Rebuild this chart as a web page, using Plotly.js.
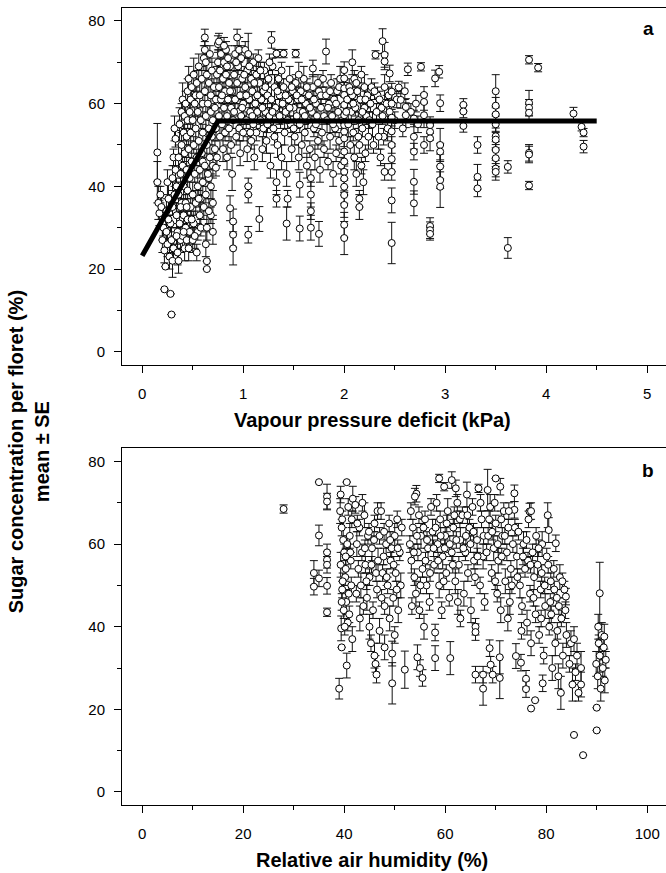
<!DOCTYPE html>
<html>
<head>
<meta charset="utf-8">
<script src="https://cdn.plot.ly/plotly-3.0.1.min.js"></script>
<style>
html,body{margin:0;padding:0;background:#fff;}
#chart{width:666px;height:873px;}
</style>
</head>
<body>
<div id="chart"></div>
<script>
// Panel a: [vapour pressure deficit (kPa), sugar concentration (%), SE]
const vpdPoints = [
[0.15,48.2,7],[0.15,41,5],[0.16,36,4],[0.17,33.5,3],[0.18,38,2],[0.19,35,3],[0.2,31,4],[0.2,27,3],[0.21,30,2],[0.22,15.1,0],[0.23,20.6,0],[0.22,24.5,3],[0.24,34,3],[0.24,29,2],[0.25,41,3],[0.25,26,3],[0.26,37,4],[0.27,23,3],[0.28,14,0],[0.29,9,0],[0.28,31,2],[0.29,27,3],[0.3,42,3],[0.3,35,2],[0.3,22,4],[0.31,47,2],[0.31,25,3],
[0.32,54,3],[0.33,51.5,2],[0.33,44,3],[0.34,40,2],[0.34,33,3],[0.35,29,2],[0.35,24,3],[0.36,47,3],[0.36,38,2],[0.37,55,4],[0.37,31,3],[0.38,43,2],[0.38,27,3],[0.39,58,2],[0.39,50,3],[0.39,36,2],[0.4,61,4],[0.4,45,3],[0.4,28,3],[0.41,53,2],[0.41,40,3],[0.41,33,2],[0.42,57,3],[0.42,48,2],[0.42,25,3],[0.43,60,3],[0.43,36,2],[0.43,30,3],[0.44,52,2],[0.44,44,3],[0.44,27,2],[0.45,63,3],[0.45,56,2],[0.45,39,3],[0.45,32,2],
[0.46,66,3],[0.46,49,2],[0.47,58,3],[0.47,42,3],[0.47,29,3],[0.48,61,2],[0.48,53,3],[0.48,35,2],[0.49,64,3],[0.49,46,3],[0.5,56,2],[0.5,38,3],[0.5,27,3],[0.51,67,4],[0.51,50,2],[0.51,31,3],[0.52,60,3],[0.52,43,2],[0.53,62,2],[0.53,54,3],[0.53,36,3],[0.54,65,3],[0.54,47,2],[0.55,58,2],[0.55,40,3],[0.55,29,2],[0.56,69,3],[0.56,51,3],[0.57,62,3],[0.57,44,2],[0.57,33,3],[0.58,56,2],[0.58,37,3],[0.59,66,3],[0.59,48,2],[0.6,60,3],[0.6,53,2],[0.6,41,3],[0.61,71,3],[0.61,35,3],
[0.26,32,2],[0.32,38,2],[0.34,28,2],[0.36,22,3],[0.38,35,2],[0.41,29,2],[0.44,35,2],[0.46,25,3],[0.49,32,2],[0.52,28,3],[0.54,24,2],[0.56,37,2],[0.58,30,2],[0.6,46,2],[0.63,26,3],[0.66,42,2],[0.68,33,2],[0.7,29,3],
[0.62,76,2],[0.62,73,2],[0.62,63,3],[0.62,45,3],[0.63,70,2],[0.63,57,3],[0.63,38,2],[0.64,21.9,0],[0.64,20,0],[0.64,67,3],[0.64,50,3],[0.64,30,3],[0.65,60,2],[0.65,43,2],[0.66,65,3],[0.66,54,2],[0.66,34,3],[0.67,72,2],[0.67,47,3],[0.68,62,3],[0.68,58,2],[0.68,40,3],[0.69,68,3],[0.69,52,2],[0.7,56,3],[0.7,45,3],[0.7,36,3],[0.71,64,2],[0.72,59,3],[0.72,49,2],[0.73,44.5,2],[0.73,54,3],[0.73,61,2],[0.74,67,2],[0.74,47,2],
[0.75,74.4,2],[0.75,70,3],[0.76,64,3],[0.76,57,2],[0.77,68,3],[0.77,52,3],[0.78,72,2],[0.78,61,2],[0.79,55,3],[0.8,66,2],[0.8,49,3],[0.81,70,3],[0.81,59,2],[0.82,63,3],[0.82,53,2],[0.83,73,2],[0.83,67,2],[0.84,57,3],[0.84,47,3],[0.85,61,2],[0.85,71,3],[0.86,65,2],[0.86,54,3],[0.87,34.7,3],[0.87,69,2],[0.88,59,3],[0.88,50,2],[0.89,43,4],[0.89,63,3],[0.9,31.5,3],[0.9,28.3,3],[0.9,25,4],[0.9,56,2],[0.91,67,3],[0.92,72,2],[0.92,61,3],[0.93,52,2],[0.94,76,2],[0.94,65,3],[0.95,58,2],[0.95,69,2],[0.96,54,3],[0.97,62,2],[0.97,48,3],[0.98,71,3],[0.98,57,2],[0.99,66,2],[1.0,60,3],[1.0,53,2],
[0.76,75,2],[0.79,62,2],[0.81,74,2],[0.84,69,3],[0.87,63,2],[0.91,58,2],[0.93,70,2],[0.96,73,3],[0.99,59,2],
[1.02,73,2],[1.02,64,3],[1.03,56,2],[1.04,68,3],[1.04,49,3],[1.05,72,5],[1.05,40,2],[1.05,38,2],[1.05,28.3,2],[1.06,61,2],[1.07,58,3],[1.08,66,2],[1.08,51,2],[1.09,63,3],[1.1,55,2],[1.1,70,2],[1.11,47,3],[1.12,60,2],[1.13,67,3],[1.13,53,2],[1.14,58,2],[1.15,71,2],[1.16,65,3],[1.16,32.1,3],[1.17,56,2],[1.18,61,2],[1.19,49,3],[1.2,63,3],[1.2,54,2],[1.21,68,2],[1.22,58,2],[1.23,51,3],[1.24,62,3],[1.25,66,2],[1.26,57,2],[1.27,45,3],[1.28,75.4,2],[1.28,61,3],[1.29,69,2],[1.3,54,2],[1.31,64,3],[1.32,59,2],[1.33,72.1,1],[1.33,41,3],[1.33,37,2],[1.34,50,3],[1.35,66,2],[1.36,62,3],[1.37,56,2],[1.38,47,3],[1.39,60,2],[1.4,72.1,1],[1.4,64,2],
[1.01,67,2],[1.03,62,2],[1.06,69,2],[1.07,53,2],[1.09,57,2],[1.11,65,2],[1.14,62,3],[1.17,68,2],[1.19,59,2],[1.22,64,2],[1.24,55,2],[1.26,70,2],[1.29,58,2],[1.31,52,2],[1.34,63,2],[1.36,57,2],[1.38,68,2],
[1.41,53,3],[1.42,58,2],[1.43,31,4],[1.43,43,3],[1.44,37,2],[1.45,61,2],[1.46,66,3],[1.47,55,2],[1.48,49,3],[1.49,63,2],[1.5,59,3],[1.51,52,2],[1.52,72.1,1],[1.52,65,2],[1.53,57,3],[1.54,61,2],[1.55,47,3],[1.56,40.4,3],[1.56,29.8,3],[1.56,55,2],[1.57,63,2],[1.58,50,3],[1.59,58,2],[1.6,66,3],[1.61,53,2],[1.62,60,2],[1.63,45,3],[1.64,56,2],[1.65,62,3],[1.66,49,2],[1.67,38,3],[1.67,34,2],[1.67,30,3],[1.67,42,2],[1.68,58,2],[1.69,68.5,2],[1.69,64,3],[1.7,54,2],[1.71,47,3],[1.72,60,2],[1.73,57,3],[1.74,51,2],[1.75,28.5,3],[1.75,63,2],[1.76,44,3],[1.77,59,2],[1.78,53,3],[1.79,66,2],[1.8,49,2],
[1.42,62,2],[1.44,56,2],[1.46,59,2],[1.48,64,2],[1.5,54,2],[1.53,62,2],[1.55,67,3],[1.58,61,2],[1.61,57,2],[1.63,64,2],[1.66,59,2],[1.7,61,2],[1.72,55,2],[1.74,65,2],[1.77,62,2],[1.8,57,2],
[1.82,72.6,3],[1.82,62,2],[1.83,56,3],[1.84,46,2],[1.85,60,2],[1.86,52,3],[1.87,65,2],[1.88,57,2],[1.89,43,3],[1.9,61,3],[1.91,54,2],[1.92,48,2],[1.93,63,3],[1.94,58,2],[1.95,51,2],[1.96,66,3],[1.97,45,2],
[1.84,59,2],[1.86,63,2],[1.89,55,2],[1.92,60,2],[1.95,64,2],[1.98,56,2],
[2.0,68.1,2],[2.0,66.1,2],[2.0,63.7,2],[2.0,62.1,3],[2.0,59.7,2],[2.0,57.2,2],[2.0,54.8,3],[2.0,53.2,2],[2.0,51.6,2],[2.0,48.4,3],[2.0,46,2],[2.0,43.5,2],[2.0,41.9,3],[2.0,39.9,2],[2.0,37.9,2],[2.0,35.5,3],[2.0,30.7,3],[2.0,27.5,4],
[2.03,61,2],[2.04,55,3],[2.05,64,2],[2.06,50,2],[2.07,58,3],[2.08,70,3],[2.08,62,2],[2.09,53,2],[2.1,66,2],[2.1,47,3],[2.11,59,2],[2.12,43,3],[2.13,63,2],[2.14,56,2],[2.15,35,3],[2.15,37,2],[2.15,50,2],[2.16,61,3],[2.17,67,2],[2.17,45,2],[2.18,54,2],[2.19,41,3],[2.2,59,2],[2.2,64,3],[2.21,48,2],[2.22,57,2],[2.23,62,2],[2.24,52,3],
[2.02,58,2],[2.06,63,2],[2.09,60,2],[2.12,65,2],[2.14,52,2],[2.18,58,2],[2.21,61,2],[2.25,56,2],[2.27,64,2],[2.29,50,2],[2.33,62,2],[2.37,59,2],[2.39,52,2],[2.44,62,2],[2.5,56,2],[2.52,61,2],[2.58,54,2],[2.6,63,2],[2.66,58,2],[2.73,55,2],
[2.26,60,2],[2.28,55,3],[2.3,63,2],[2.31,71.8,1],[2.32,58,2],[2.34,52,3],[2.35,61,2],[2.36,47,2],[2.38,75.1,3],[2.38,57,2],[2.4,71.8,3],[2.4,70.2,2],[2.4,64,3],[2.4,43.5,2],[2.42,60,2],[2.43,54,3],[2.45,67.3,2],[2.45,58,2],
[2.47,62.9,2],[2.47,60,3],[2.47,56.6,2],[2.47,53.3,3],[2.47,50,2],[2.47,46.6,3],[2.47,43.5,2],[2.47,36.6,3],[2.47,26.3,5],
[2.54,63.9,1.5],[2.56,60.9,2],[2.61,59.2,2],[2.61,57.2,3],
[2.63,68.3,1.5],[2.69,56.4,2],[2.69,52,3],[2.69,48.4,2],[2.69,41.1,3],[2.69,35.9,3],[2.71,60,2],[2.76,68.9,1],[2.79,62.1,2],[2.79,60.4,2],[2.79,57.2,3],[2.79,50,2],[2.85,54.8,2],[2.85,53.2,2],[2.85,51.6,3],[2.85,30.4,2],[2.85,29.4,2],[2.85,28.5,1.5],[2.9,66.1,2],[2.94,67.7,1.5],[2.95,60.1,2],[2.95,50,4],[2.95,48.4,2],[2.95,44.8,3],[2.95,41.5,2],[2.95,39.9,5],
[3.18,59.7,1.5],[3.18,58.1,1.5],[3.18,54.6,1.5],[3.32,50,2],[3.32,42.3,3],[3.32,39.5,2],[3.5,63,4],[3.5,59.5,2],[3.5,57.4,2],[3.5,55,2],[3.5,52.1,2],[3.5,51.3,2],[3.5,48.8,2],[3.5,46.8,2],[3.5,44.3,2],[3.5,43.5,2],[3.62,44.7,1.5],[3.62,25.1,2.5],[3.83,70.6,1],[3.83,60.2,3],[3.83,59,2],[3.83,57.8,2],[3.83,48.1,2],[3.83,47.7,2],[3.83,40.2,1],[3.92,68.7,1],[4.27,57.6,1.5],[4.35,54.4,1],[4.37,53,1],[4.37,49.6,1.5]
];

// Broken-stick fit in panel a
const fitVpd = [0, 0.75, 4.5];
const fitSugar = [23.2, 55.8, 55.8];

// Panel b: [relative air humidity (%), sugar concentration (%), SE]
const rhPoints = [
[28,68.5,1],[35,75,0],[36.6,71.5,3],[36.6,70.3,2],[35,62.1,2.5],[36.6,58,2],[36.6,56.2,2],[36.6,55,2],[34,53,3],[35,51.7,2],[34,49.7,2],[36.6,49.9,2],[36.6,43.5,1],
[39,25,2.5],[39.5,35,0],[40.5,30.6,3],[40.5,75,0],[39.2,68,3],[39.5,64,2],[39.8,61,3],[40,58,2],[39.3,55,3],[40.2,52,2],[39.6,49,2],[40.4,46,3],[39.9,44,2],[40.7,41,2],[39.4,39.6,3],[40.9,48,2],[41.1,62,3],[41.3,56,2],[41.5,66,2],[41.7,71,3],[41,43,2],[41.6,37,3],[40.1,40,2],[39.7,51,2],[40.3,54,3],[40.6,60,2],[39.6,66,2],
[39.3,72,2],[40.8,69,2],[41.2,58,2],[40.3,57,2],[39.5,46,2],[41.4,50,2],
[42.2,69.5,2],[42.5,60,3],[42.8,54,2],[43,64,2],[43.3,50,3],[43.5,58,2],[43.8,45,2],[44,67,3],[44.2,55,2],[44.5,47,3],[44.7,62,2],[45,40,3],[45,52,2],[45.3,36,2],[45.5,59,3],[45.7,44,2],[46,65,2],[46,33,3],[46.2,31,2],[46.4,28.4,2],[46.5,49,2],[46.7,56,3],[47,62,2],[47,39,3],[42.4,48,2],[43.1,42,3],[44.4,51,2],[45.9,61,2],[46.3,53,2],
[42.6,65,2],[43.6,70,2],[44.1,59,2],[44.9,63,2],[45.4,55,2],[46.6,68,2],
[47.3,68,2],[47.6,53,2],[48,35,3],[48,45,2],[48.3,60,3],[48.6,50,2],[48.9,65,2],[49,42,3],[49.2,56,2],[49.5,26.3,5],[49.5,33.5,3],[49.7,47,2],[50,62,3],[50,38,2],[50.2,53,2],[50.5,66,2],[50.7,44,3],[51,58,2],[51.2,50,3],[52,29.6,4.5],[47.8,57,2],[49.4,59,2],[50.4,49,2],
[47.4,47,2],[47.9,63,2],[48.4,52,2],[49.1,61,2],[49.8,55,2],[50.6,59,2],[51.4,64,2],
[53,60,2],[53.3,56,3],[53.6,64,2],[53.9,52,2],[54.3,72.2,2],[54,71.5,2],[54.2,48,3],[54.5,32.6,3],[54.6,58,2],[54.9,44,2],[55,30,2],[55.2,62,3],[55.5,27.6,2],[55.5,54,2],[55.8,40,3],[56,66,2],[56.3,50,2],[56.6,59,3],[56.9,46,2],[57.2,69,2],[53.4,45,2],[54.8,67,2],[56.1,56,2],
[53.2,68,2],[53.8,58,2],[54.4,62,2],[55.1,50,2],[55.7,64,2],[56.4,61,2],[57,53,2],
[57.5,63,3],[57.8,55,2],[58,38.6,2],[58,32.4,3],[58.3,70,2],[58.5,60,2],[58.8,75.9,1],[58.8,50,3],[59,66,2],[59.3,44,2],[59.5,57,3],[59.8,73.9,1],[60,62,2],[60.2,53,2],[60.5,68,3],[60.8,47,2],[61,32.4,4],[61.3,75.5,2],[61.3,58,2],[61.6,64,2],[62,51,3],[62.1,73.5,2],[62.4,70,2],[62.7,55,2],[63,61,3],[63,42,2],[58.1,64,2],[59.9,59,2],[61.8,67,2],[62.5,46,3],
[57.7,59,2],[58.6,56,2],[59.1,62,2],[59.7,51,2],[60.3,65,2],[60.9,60,2],[61.5,55,2],[62.2,61,2],[62.9,66,2],
[63.4,67,2],[63.7,48,3],[64,58,2],[64.3,72,3],[64.5,53,2],[64.8,64,2],[65.1,44,3],[65.4,69,2],[65.7,56,2],[66,40,2],[66,38.7,2],[66,28.4,2],[66.3,61,3],[66.6,73.5,1],[66.9,50,2],[67.2,66,2],[67.5,25,4],[67.5,28.4,2],[67.5,57,3],[67.8,46,2],[64.1,62,2],[65.9,52,2],
[63.6,59,2],[64.4,67,2],[65,60,2],[65.6,63,2],[66.4,57,2],[67,70,2],[67.6,62,2],
[68.4,73.1,5],[68.5,62,2],[68.8,34.8,2],[68.9,69,3],[69,30.8,2],[69.2,53,2],[69.4,28.4,2],[69.6,59,3],[70,75.9,0],[70,65,2],[70.3,48,2],[70.5,56,3],[70.8,32.6,4],[70.8,27.6,5],[70.9,73.9,2],[71,44,3],[71.3,62,2],[71.6,68,2],[71.9,51,3],[72.2,58,2],[72.5,64,2],[72.8,46,3],[73,54,2],[73.4,60,2],[73.7,72.3,2],[73.7,68.3,2],[69.9,51,2],[71.1,66,2],[72.4,42,3],
[68.2,58,2],[68.7,66,2],[69.3,63,2],[69.8,70,2],[70.4,60,2],[71.2,57,2],[71.8,62,2],[72.6,68,2],[73.2,50,2],[73.8,64,2],
[74,32.9,3],[74.2,57,3],[74.5,63,2],[74.8,50,3],[75,31.3,2],[75.2,45,2],[75.5,60,3],[75.8,54,2],[76,27.4,2],[76,24.9,2],[76.2,41,3],[76.5,66,2],[76.7,67.9,2],[76.8,48,2],[77,20.2,0],[77,68,2],[77,36,3],[77.3,58,2],[77.6,52,3],[77.8,22.2,0],[77.9,43,2],[78,62,2],[75.1,39,2],[76.4,56,2],
[74.3,52,2],[75.4,57,2],[76.1,61,2],[76.9,55,2],[77.5,47,2],
[78.3,55,3],[78.6,38,2],[78.9,49,2],[79.2,60,3],[79.3,26.3,2],[79.5,33,2],[79.8,45,3],[80.1,57,2],[80.3,67,3],[80.5,63.4,3],[80.6,40,2],[80.9,51,2],[81.2,30,3],[81.5,54,2],[81.9,60.2,2],[81.8,36,3],[82.1,47,2],[82.4,28,3],[82.7,52,3],[82.9,24,4],[83,42,2],[83.3,33,3],[83.6,49,2],[83.9,47.3,2],[84,38,3],[79,42,2],[80.8,46,2],[82.2,39,2],
[78.5,59,2],[79.1,53,2],[79.7,50,2],[80.4,55,2],[81,43,2],[81.6,49,2],[82.5,45,2],[83.2,51,2],[83.8,44,2],
[84.6,31,2],[84.9,36,3],[85.2,26,4],[85.5,37,3],[85.5,13.8,0],[85.8,29,2],[86.1,33,3],[86.4,24,2],[86.9,30,4],[86.9,26,3],[87.3,8.9,0],
[89.9,31,3],[90,20.4,0],[90,14.9,0],[90.2,28,3],[90.4,36,2],[90.6,48.1,7.5],[90.6,33,4],[90.8,25,3],[91,38,3],[91.2,30,2],[91.4,35,3],[91.6,27,3],[91.8,32,2],[90.3,40,3],[91.5,37.6,3]
];

const vpdX = vpdPoints.map(p => p[0]);
const vpdY = vpdPoints.map(p => p[1]);
const vpdSE = vpdPoints.map(p => p[2]);
const rhX = rhPoints.map(p => p[0]);
const rhY = rhPoints.map(p => p[1]);
const rhSE = rhPoints.map(p => p[2]);

const FONT = 'Liberation Sans, Arial, Helvetica, sans-serif';
const markerStyle = {symbol:'circle', size:7, color:'white', line:{color:'black', width:1}};
const errStyle = (arr) => ({type:'data', array:arr, visible:true, color:'#111', thickness:1, width:4});

const traces = [
  {x:vpdX, y:vpdY, type:'scatter', mode:'markers', marker:markerStyle, error_y:errStyle(vpdSE), xaxis:'x', yaxis:'y', hoverinfo:'skip'},
  {x:fitVpd, y:fitSugar, type:'scatter', mode:'lines', line:{color:'black', width:5}, xaxis:'x', yaxis:'y'},
  {x:rhX, y:rhY, type:'scatter', mode:'markers', marker:markerStyle, error_y:errStyle(rhSE), xaxis:'x2', yaxis:'y2', hoverinfo:'skip'}
];

const commonAxis = {
  showgrid:false, zeroline:false, showline:true, linecolor:'black', linewidth:1,
  ticks:'outside', ticklen:7, tickwidth:1, tickcolor:'black',
  tickfont:{family:FONT, size:15, color:'black'}
};

const layout = {
  width:666, height:873,
  margin:{l:122, r:0, t:0, b:0, pad:0},
  paper_bgcolor:'white', plot_bgcolor:'white',
  showlegend:false,
  xaxis:Object.assign({}, commonAxis, {domain:[0,1], anchor:'y', range:[-0.2,5.186], tick0:0, dtick:1, mirror:true, ticklabelstandoff:8,
    minor:{dtick:0.5, tick0:0, ticks:'outside', ticklen:4, tickcolor:'black', tickwidth:1, showgrid:false}}),
  yaxis:Object.assign({}, commonAxis, {domain:[0.5819,0.9912], anchor:'x', range:[-3.2,83.2], tick0:0, dtick:20, ticklabelstandoff:6,
    minor:{dtick:10, tick0:0, ticks:'outside', ticklen:4, tickcolor:'black', tickwidth:1, showgrid:false}}),
  xaxis2:Object.assign({}, commonAxis, {domain:[0,1], anchor:'y2', range:[-4,103.72], tick0:0, dtick:20, mirror:true, ticklabelstandoff:8,
    minor:{dtick:10, tick0:0, ticks:'outside', ticklen:4, tickcolor:'black', tickwidth:1, showgrid:false}}),
  yaxis2:Object.assign({}, commonAxis, {domain:[0.0777,0.4865], anchor:'x2', range:[-3.2,83.2], tick0:0, dtick:20, ticklabelstandoff:6,
    minor:{dtick:10, tick0:0, ticks:'outside', ticklen:4, tickcolor:'black', tickwidth:1, showgrid:false}}),
  annotations:[
    {text:'<b>Vapour pressure deficit (kPa)</b>', xref:'paper', yref:'paper', x:0.4596, y:0.5189, xanchor:'center', yanchor:'middle', showarrow:false, font:{family:FONT, size:20, color:'black'}},
    {text:'<b>Relative air humidity (%)</b>', xref:'paper', yref:'paper', x:0.4596, y:0.0149, xanchor:'center', yanchor:'middle', showarrow:false, font:{family:FONT, size:20, color:'black'}},
    {text:'<b>Sugar concentration per floret (%)<br>mean ± SE</b>', xref:'paper', yref:'paper', x:-0.171, y:0.483, xanchor:'center', yanchor:'middle', textangle:-90, align:'center', showarrow:false, font:{family:FONT, size:20, color:'black'}},
    {text:'<b>a</b>', xref:'paper', yref:'paper', x:0.967, y:0.9676, xanchor:'center', yanchor:'middle', showarrow:false, font:{family:FONT, size:19, color:'black'}},
    {text:'<b>b</b>', xref:'paper', yref:'paper', x:0.967, y:0.4608, xanchor:'center', yanchor:'middle', showarrow:false, font:{family:FONT, size:19, color:'black'}}
  ]
};

Plotly.newPlot('chart', traces, layout, {staticPlot:true, displayModeBar:false});
</script>
</body>
</html>
